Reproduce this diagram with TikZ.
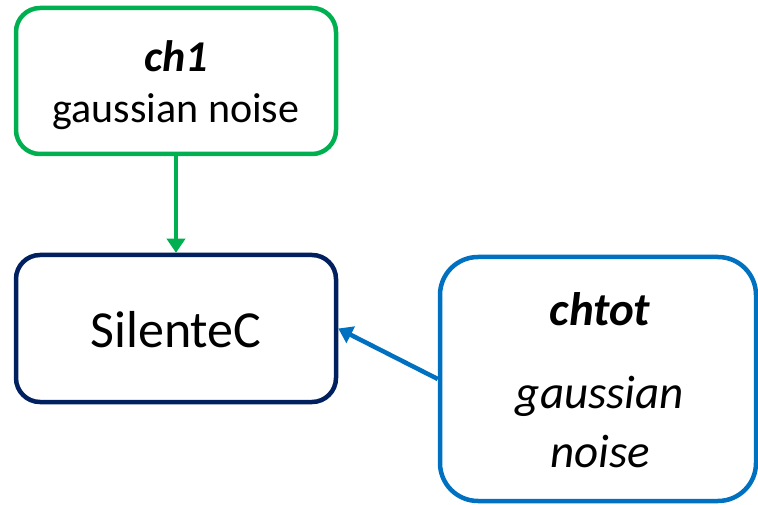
\documentclass[tikz,border=0pt]{standalone}
\usepackage{fontspec}
\setmainfont{Carlito}
\usepackage{tikz}
\usetikzlibrary{arrows.meta}

\definecolor{boxgreen}{HTML}{00B050}
\definecolor{boxnavy}{HTML}{002060}
\definecolor{boxblue}{HTML}{0070C0}

\begin{document}
\begin{tikzpicture}[x=1pt, y=-1pt,
        box/.style={draw, line width=4.5pt, fill=white, inner sep=0pt},
        link/.style={line width=4.5pt, -{Triangle[width=18pt, length=14pt]}}]
        \useasboundingbox (0, 0) rectangle (758, 505);
        \node[box, draw=boxgreen, rounded corners=24pt, minimum width=320pt, minimum height=146pt] (ch1) at (176, 81) {};
        \node[box, draw=boxnavy, rounded corners=24pt, minimum width=320pt, minimum height=147pt] (silente) at (176, 328.5) {};
        \node[box, draw=boxblue, rounded corners=38pt, minimum width=316pt, minimum height=244pt] (chtot) at (598, 379) {};
        % texts inside the boxes
        \node[anchor=base] (ch1Name) at (176, 72) {\fontsize{44}{50}\selectfont\bfseries\itshape ch1};
        \node[anchor=base] (ch1Noise) at (176, 123) {\fontsize{42}{50}\selectfont gaussian noise};
        \node[anchor=base] (silenteName) at (176, 347) {\fontsize{52}{60}\selectfont SilenteC};
        \node[anchor=base] (chtotName) at (600, 325) {\fontsize{47}{55}\selectfont\bfseries\itshape chtot};
        \node[anchor=base] (chtotGauss) at (600, 408) {\fontsize{47}{55}\selectfont\itshape gaussian};
        \node[anchor=base] (chtotNoise) at (600, 467) {\fontsize{47}{55}\selectfont\itshape noise};

        \draw[link, boxgreen] (ch1) -- (silente);
        \draw[link, boxblue] (chtot.west) -- (silente.east);
    \end{tikzpicture}
\end{document}
